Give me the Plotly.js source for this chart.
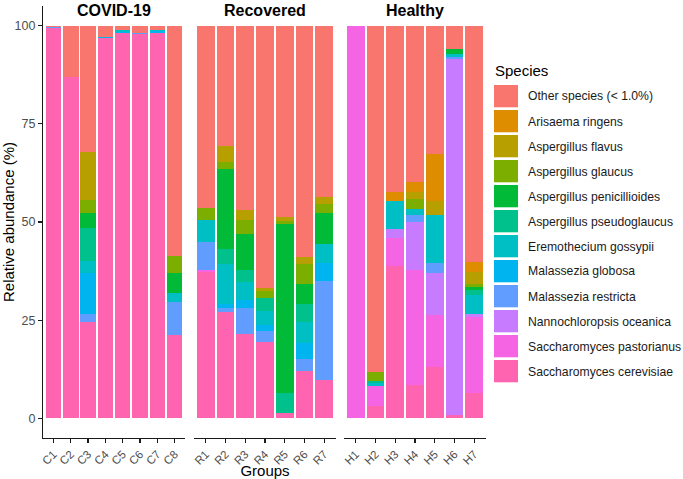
<!DOCTYPE html>
<html>
<head>
<meta charset="utf-8">
<script src="https://cdn.plot.ly/plotly-3.0.1.min.js"></script>
<style>html,body{margin:0;padding:0;background:#fff;}#chart{width:683px;height:479px;}</style>
</head>
<body>
<div id="chart"></div>
<script>
// Groups / samples
const groupNames = ['COVID-19', 'Recovered', 'Healthy'];
const samplesCovid = ['C1','C2','C3','C4','C5','C6','C7','C8'];
const samplesRecovered = ['R1','R2','R3','R4','R5','R6','R7'];
const samplesHealthy = ['H1','H2','H3','H4','H5','H6','H7'];

// Species (legend order, top of stack first)
const species = ['Other species (< 1.0%)','Arisaema ringens','Aspergillus flavus','Aspergillus glaucus',
  'Aspergillus penicillioides','Aspergillus pseudoglaucus','Eremothecium gossypii','Malassezia globosa',
  'Malassezia restricta','Nannochloropsis oceanica','Saccharomyces pastorianus','Saccharomyces cerevisiae'];
const speciesColors = ['#F8766D','#DE8C00','#B79F00','#7CAE00','#00BA38','#00C08B','#00BFC4','#00B4F0',
  '#619CFF','#C77CFF','#F564E3','#FF64B0'];

// Relative abundance (%), order: C1..C8, R1..R7, H1..H7
const other          = [0.4,13.1,32.2,2.8,1.1,1.9,1.0,58.6, 46.4,30.7,46.9,66.9,48.7,58.9,43.6, 0,88.2,42.4,39.8,32.6,5.9,60.2];
const arisaema       = [0,0,0,0,0,0,0,0, 0,0,0,0,0,0,0, 0,0,2.3,2.6,12.1,0,2.5];
const flavus         = [0,0,12.3,0,0,0,0,0, 0,4.0,2.5,0.6,1.1,1.9,1.9, 0,0,0,1.8,3.6,0,3.0];
const glaucus        = [0,0,3.2,0,0,0,0,4.4, 3.0,1.7,3.6,1.8,0.8,5.0,2.2, 0,2.2,0,2.6,0,0,0.8];
const penicillioides = [0,0,3.7,0,0,0,0,5.2, 0,20.6,9.1,0,42.9,5.0,8.0, 0,0,0,0,0,1.3,0.9];
const pseudoglaucus  = [0,0,8.5,0,0,0,0,0, 0,3.8,3.2,3.4,5.1,4.6,0, 0,0.7,0,0,0,0,1.3];
const eremothecium   = [0,0,3.2,0,0.4,0,0.4,2.1, 5.7,10.1,4.6,3.6,0,5.4,4.7, 0,0.6,7.2,1.3,12.1,0.9,4.8];
const globosa        = [0,0,10.2,0.3,0.3,0,0.6,0, 0,0.9,2.1,1.4,0,4.1,4.7, 0,0,0,0,0,0,0];
const restricta      = [0.3,0,2.1,0,0,0.3,0,8.5, 7.2,1.1,6.4,2.8,0,3.1,25.2, 0,0,0,1.9,2.5,0.4,0];
const nannochloropsis= [0,0,0,0,0,0,0,0, 0,0,0,0,0,0,0, 0,0,2.3,12.3,10.8,90.7,0.7];
const pastorianus    = [0,0,0,0,0,0,0,0, 0.4,0,0,0,0,0,0, 100,5.2,7.1,29.2,13.3,0,19.4];
const cerevisiae     = [99.3,86.9,24.6,96.9,98.2,97.8,98.0,21.2, 37.3,27.1,21.6,19.5,1.4,12.0,9.7, 0,3.1,38.7,8.5,13.0,0.8,6.4];

const seriesValues = [other, arisaema, flavus, glaucus, penicillioides, pseudoglaucus, eremothecium,
  globosa, restricta, nannochloropsis, pastorianus, cerevisiae];

const groupSamples = [samplesCovid, samplesRecovered, samplesHealthy];
const axisIds = ['x','x2','x3'];

const traces = [];
let offset = 0;
groupSamples.forEach((samples, g) => {
  // stack bottom-up: reverse legend order
  for (let s = species.length - 1; s >= 0; s--) {
    traces.push({
      type: 'bar',
      name: species[s],
      x: samples,
      y: seriesValues[s].slice(offset, offset + samples.length),
      xaxis: axisIds[g],
      yaxis: 'y',
      marker: {color: speciesColors[s], line: {width: 0}},
      showlegend: false,
      hoverinfo: 'skip'
    });
  }
  offset += samples.length;
});

// Layout geometry (pixels)
const W = 683, Hh = 479;
const L = 43, R = 197, T = 6, B = 41;
const PW = W - L - R, PH = Hh - T - B;
const px = v => (v - L) / PW;
const py = v => (Hh - B - v) / PH;
const panelPx = [[43,185],[194,336],[344,486]];

const font = 'Liberation Sans, Arial, sans-serif';
const tickFont = {family: font, size: 11.5, color: '#4D4D4D'};
const yTickFont = {family: font, size: 12.5, color: '#4D4D4D'};
const axisLine = '#1a1a1a';

function xAxis(i, n) {
  return {
    domain: [px(panelPx[i][0]), px(panelPx[i][1])],
    anchor: 'y',
    type: 'category',
    range: [-0.6, n - 1 + 0.6],
    showline: true, linecolor: axisLine, linewidth: 1.1,
    ticks: 'outside', ticklen: 4, tickcolor: axisLine, tickwidth: 1.1,
    tickangle: -45, tickfont: tickFont,
    showgrid: false, zeroline: false, fixedrange: true
  };
}

const annotations = [];
const shapes = [];
// strip titles
groupNames.forEach((g, i) => {
  annotations.push({
    text: '<b>' + g + '</b>', xref: 'paper', yref: 'paper',
    x: px((panelPx[i][0] + panelPx[i][1]) / 2), y: py(10),
    xanchor: 'center', yanchor: 'middle', showarrow: false,
    font: {family: font, size: 16, color: '#000'}
  });
});
// legend
annotations.push({
  text: 'Species', xref: 'paper', yref: 'paper', x: px(493), y: py(70),
  xanchor: 'left', yanchor: 'middle', showarrow: false,
  font: {family: font, size: 15, color: '#000'}
});
species.forEach((s, i) => {
  const top = 85 + 25 * i;
  shapes.push({
    type: 'rect', xref: 'paper', yref: 'paper',
    x0: px(494), x1: px(518), y0: py(top + 22.3), y1: py(top),
    fillcolor: speciesColors[i], line: {width: 0}
  });
  annotations.push({
    text: s, xref: 'paper', yref: 'paper', x: px(526), y: py(top + 11.5),
    xanchor: 'left', yanchor: 'middle', showarrow: false,
    font: {family: font, size: 12.2, color: '#1a1a1a'}
  });
});

const layout = {
  width: W, height: Hh,
  margin: {l: L, r: R, t: T, b: B, pad: 0},
  paper_bgcolor: '#fff', plot_bgcolor: '#fff',
  barmode: 'stack', bargap: 0.1,
  showlegend: false,
  font: {family: font},
  xaxis: xAxis(0, samplesCovid.length),
  xaxis2: Object.assign(xAxis(1, samplesRecovered.length), {
    title: {text: 'Groups', font: {family: font, size: 15, color: '#000'}, standoff: 1}
  }),
  xaxis3: xAxis(2, samplesHealthy.length),
  yaxis: {
    domain: [0, 1], anchor: 'x',
    range: [-5, 105], tickvals: [0, 25, 50, 75, 100], ticktext: ['0','25','50','75','100'],
    showline: true, linecolor: axisLine, linewidth: 1.1,
    ticks: 'outside', ticklen: 4, tickcolor: axisLine, tickwidth: 1.1,
    tickfont: yTickFont, showgrid: false, zeroline: false, fixedrange: true,
    title: {text: 'Relative abundance (%)', font: {family: font, size: 15, color: '#000'}, standoff: 2}
  },
  annotations: annotations,
  shapes: shapes
};

Plotly.newPlot('chart', traces, layout, {displayModeBar: false, staticPlot: true});
</script>
</body>
</html>
